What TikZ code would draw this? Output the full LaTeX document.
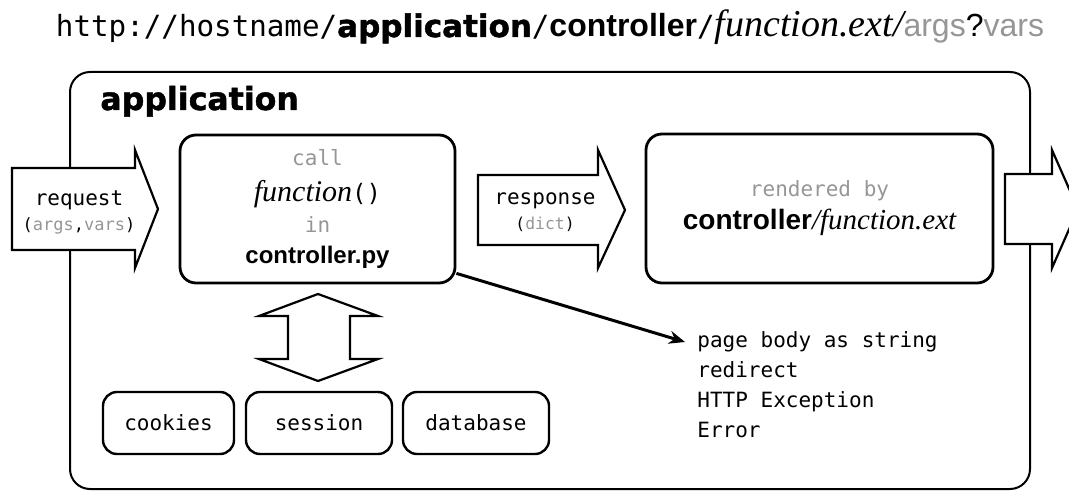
\documentclass[tikz,border=0pt]{standalone}
\usepackage{fontspec}
\setmainfont{Liberation Serif}
\setsansfont{Liberation Sans}
\setmonofont{DejaVu Sans Mono}
\newfontfamily\heavyfont[FakeBold=1.5]{DejaVu Sans Bold}
\usetikzlibrary{arrows.meta}
\definecolor{lightgrey}{RGB}{150,150,150}

\tikzset{
  frame/.style={draw, line width=1pt, rounded corners=10pt, inner sep=0pt},
  codebox/.style={draw, line width=1.4pt, rounded corners=8pt, align=center, inner sep=0pt,
    font=\ttfamily\fontsize{10.5}{15.5}\selectfont},
  storebox/.style={draw, line width=1.2pt, rounded corners=7pt, minimum height=31pt, inner sep=0pt,
    font=\ttfamily\fontsize{10.5}{12}\selectfont},
  fatarrow/.style={draw, line width=1.1pt, fill=white, line join=miter},
  arrowtext/.style={align=center, inner sep=0pt, font=\ttfamily\fontsize{10.5}{12.5}\selectfont},
}

\begin{document}
\begin{tikzpicture}[x=0.5pt,y=-0.5pt]
\useasboundingbox (0,0) rectangle (1069,491);
% the url
\node[anchor=base, inner sep=0pt, font=\fontsize{16}{18}\selectfont] (url) at (550,37)
  {{\ttfamily\fontsize{14.6}{16}\selectfont http://hostname/}{\heavyfont\fontsize{15.5}{18}\selectfont application}{\ttfamily\fontsize{14.6}{16}\selectfont /}{\sffamily\bfseries controller}{\ttfamily\fontsize{14.6}{16}\selectfont /}{\rmfamily\itshape\fontsize{19}{20}\selectfont function.ext/}{\sffamily\color{lightgrey}args}{\sffamily ?}{\sffamily\color{lightgrey}vars}};
% application frame
\node[frame, minimum width=480pt, minimum height=208.5pt] (app) at (550,280.5) {};
\node[anchor=base west, inner sep=0pt, font=\heavyfont\fontsize{15.8}{18}\selectfont] (apptitle) at (100,110) {application};
% big arrows
\draw[fatarrow] (12,168) -- (135,168) -- (135,150) -- (158,209) -- (135,268) -- (135,250) -- (12,250) -- cycle;
\node[arrowtext] (request) at (79,212) {request\\{\fontsize{8.5}{10}\selectfont(\textcolor{lightgrey}{args},\textcolor{lightgrey}{vars})}};
\draw[fatarrow] (478,175) -- (598,175) -- (598,150) -- (625,210) -- (598,268) -- (598,245) -- (478,245) -- cycle;
\node[arrowtext] (response) at (545,212) {response\\{\fontsize{8.2}{10}\selectfont(\textcolor{lightgrey}{dict})}};
\draw[fatarrow] (1005,174) -- (1052,174) -- (1052,150) -- (1078,209) -- (1052,268) -- (1052,244) -- (1005,244) -- cycle;
% controller and view
\node[codebox, minimum width=137.5pt, minimum height=74pt] (func) at (317.5,209)
  {\textcolor{lightgrey}{call}\\[2.5pt]
   {\rmfamily\itshape\fontsize{15}{16}\selectfont function}{\fontsize{12}{16}\selectfont()}\\
   \textcolor{lightgrey}{in}\\
   {\sffamily\bfseries\fontsize{12}{16}\selectfont controller.py}};
\node[codebox, minimum width=173.5pt, minimum height=74.5pt] (view) at (819.5,208.5)
  {\textcolor{lightgrey}{rendered by}\\[1pt]
   {\sffamily\bfseries\fontsize{14}{16}\selectfont controller}{\rmfamily\itshape\fontsize{14.5}{16}\selectfont /function.ext}};
% double arrow to the stores
\draw[fatarrow] (318,294) -- (378,316) -- (350,316) -- (350,359) -- (378,359) -- (318,381)
  -- (259,359) -- (288,359) -- (288,316) -- (259,316) -- cycle;
\node[storebox, minimum width=65.5pt] (cookies) at (168.5,423) {cookies};
\node[storebox, minimum width=73pt] (session) at (319,423) {session};
\node[storebox, minimum width=73pt] (database) at (476,423) {database};
% what the function may return
\node[anchor=north west, align=left, inner sep=0pt, font=\ttfamily\fontsize{10.5}{15}\selectfont] (results) at (697,331)
  {page body as string\\redirect\\HTTP Exception\\Error};
\coordinate (tip) at (685,342);
\draw[line width=1.5pt, -{Stealth[length=8pt,width=6.5pt]}] ([yshift=5.5pt]func.south east) -- (tip);
\end{tikzpicture}
\end{document}
